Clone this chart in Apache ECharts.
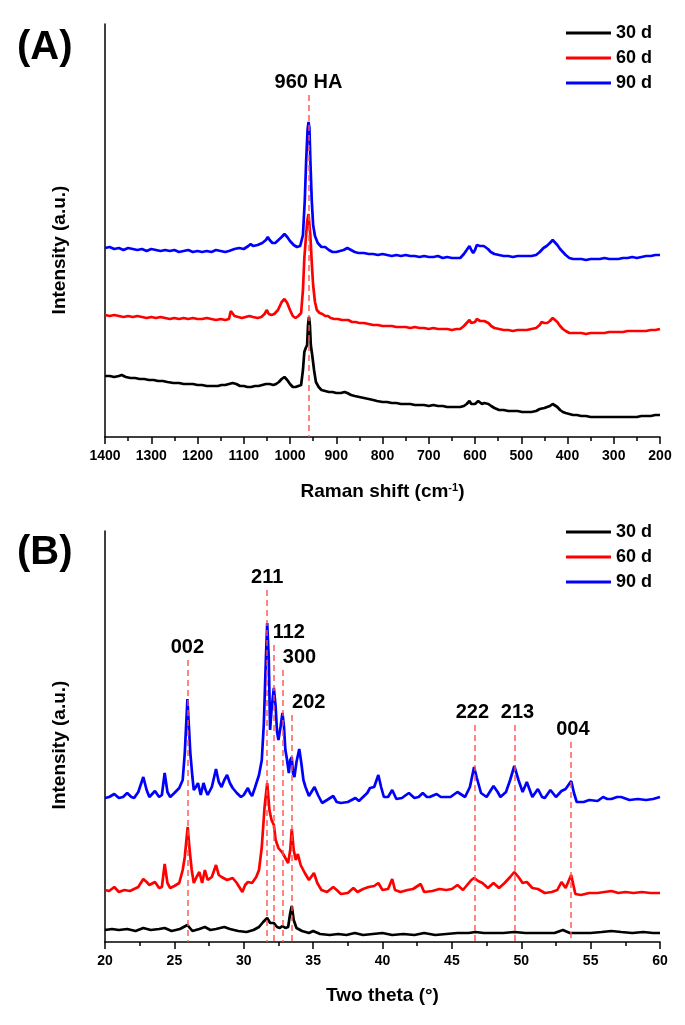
<!DOCTYPE html>
<html>
<head>
<meta charset="utf-8">
<script src="https://cdn.jsdelivr.net/npm/echarts@6/dist/echarts.min.js"></script>
<style>
html,body{margin:0;padding:0;background:#fff;}
#chart{width:685px;height:1025px;}
</style>
</head>
<body>
<div id="chart"></div>
<script>
// ---------- Panel A: Raman spectra  [Raman shift (cm-1), intensity (a.u.)] ----------
const seriesNames = ['30 d', '60 d', '90 d'];

const raman30 = [
[1400,61],[1390,61],[1380,60],[1370,61],[1364,62],[1355,60],[1345,59],[1335,59],[1325,58],[1315,58],[1305,57],[1295,57],[1285,56],[1275,56],[1265,55],[1252,54],[1240,54],[1230,53],[1220,53],[1210,53],[1200,52],[1190,52],[1180,51],[1172,51],[1164,51],[1156,51],[1148,52],[1140,52],[1132,53],[1124,54],[1116,53],[1108,51],[1100,51],[1092,50],[1084,50],[1076,51],[1068,51],[1060,52],[1052,53],[1048,55],[1044,53],[1036,52],[1030,53],[1024,55],[1018,58],[1012,60],[1006,57],[1000,53],[994,50],[988,50],[982,51],[976,52],[972,67],[969,85],[966,89],[963,92],[961,112],[959,120],[957,112],[955,92],[952,82],[948,67],[944,55],[938,50],[932,47],[924,46],[916,45],[908,45],[900,44],[890,44],[882,45],[876,44],[868,42],[860,41],[850,40],[840,39],[830,38],[820,37],[812,36],[800,35],[790,35],[780,34],[770,34],[760,33],[750,33],[740,33],[730,32],[720,32],[710,32],[700,31],[690,32],[680,31],[670,31],[660,30],[650,30],[640,30],[632,30],[624,31],[618,33],[612,36],[608,33],[604,32],[600,33],[596,35],[593,36],[589,34],[585,33],[580,34],[576,35],[571,33],[565,31],[558,29],[548,27],[538,27],[528,26],[518,26],[508,26],[498,25],[488,25],[478,25],[468,26],[460,28],[456,30],[450,29],[444,30],[438,31],[432,33],[428,32],[422,30],[416,27],[410,25],[404,24],[396,23],[388,22],[380,22],[370,21],[360,21],[350,20],[340,20],[330,20],[320,20],[310,20],[300,20],[290,20],[280,20],[270,20],[260,20],[250,20],[240,21],[230,21],[220,21],[210,22],[200,22]
];

const raman60 = [
[1400,122],[1390,121],[1380,122],[1370,121],[1360,120],[1350,121],[1340,120],[1330,121],[1320,120],[1310,119],[1300,120],[1290,119],[1280,120],[1270,119],[1260,118],[1250,119],[1240,118],[1230,119],[1220,118],[1210,119],[1200,118],[1190,118],[1180,119],[1170,118],[1160,117],[1150,118],[1140,117],[1132,118],[1128,126],[1125,124],[1120,121],[1112,120],[1104,119],[1096,120],[1088,121],[1080,120],[1070,119],[1062,120],[1055,123],[1050,127],[1046,123],[1040,122],[1034,123],[1026,127],[1018,135],[1012,138],[1006,134],[1000,127],[994,121],[988,119],[982,121],[976,124],[972,147],[969,179],[966,197],[963,215],[960,223],[958,221],[956,202],[953,175],[950,152],[946,135],[942,127],[936,124],[930,123],[924,121],[918,121],[912,119],[904,118],[896,118],[888,117],[880,117],[874,117],[866,115],[858,115],[850,114],[840,114],[830,113],[820,112],[810,112],[800,111],[790,111],[780,111],[770,110],[760,110],[750,110],[740,109],[730,110],[720,109],[710,109],[700,108],[690,109],[680,108],[670,108],[660,108],[650,107],[640,108],[632,108],[624,111],[618,114],[612,117],[608,114],[604,112],[600,115],[596,118],[593,119],[589,116],[585,115],[580,116],[576,117],[571,114],[565,111],[558,109],[548,108],[538,107],[528,107],[518,106],[508,107],[498,107],[488,107],[478,108],[468,109],[460,112],[456,115],[450,114],[444,114],[438,116],[432,119],[428,118],[422,115],[416,111],[410,108],[404,106],[396,104],[388,104],[380,104],[370,104],[360,103],[350,104],[340,104],[330,104],[320,104],[310,105],[300,105],[290,105],[280,105],[270,106],[260,106],[250,106],[240,106],[230,106],[220,107],[210,107],[200,108]
];

const raman90 = [
[1400,189],[1390,190],[1380,188],[1370,189],[1360,187],[1350,189],[1340,188],[1330,187],[1320,188],[1310,186],[1300,188],[1290,187],[1280,186],[1270,187],[1260,186],[1250,187],[1240,185],[1230,186],[1220,187],[1210,185],[1200,186],[1190,185],[1180,186],[1170,185],[1160,187],[1150,186],[1140,185],[1132,186],[1120,188],[1110,189],[1100,188],[1090,191],[1085,193],[1080,191],[1070,192],[1060,194],[1052,197],[1048,200],[1044,197],[1038,194],[1032,194],[1025,197],[1018,200],[1012,203],[1006,200],[1000,196],[992,192],[985,190],[978,191],[972,202],[968,237],[965,277],[962,307],[960,315],[958,309],[956,277],[953,237],[950,212],[946,201],[940,194],[932,190],[924,190],[916,187],[908,185],[900,185],[892,186],[884,187],[876,189],[868,187],[860,185],[852,184],[840,184],[830,183],[820,183],[810,182],[800,183],[790,182],[780,181],[770,182],[760,181],[750,182],[740,181],[730,181],[720,180],[710,181],[700,180],[690,180],[680,181],[670,179],[660,180],[650,179],[640,179],[632,179],[624,183],[618,187],[612,191],[608,187],[604,184],[600,187],[596,192],[593,194],[589,191],[586,189],[581,191],[577,192],[572,188],[566,185],[558,183],[548,182],[538,181],[528,181],[518,180],[508,181],[498,181],[488,181],[478,181],[468,182],[460,185],[452,189],[445,191],[438,194],[432,197],[428,196],[422,192],[416,188],[410,185],[404,182],[396,179],[388,178],[380,178],[370,178],[360,177],[350,178],[340,178],[330,178],[320,179],[310,178],[300,178],[290,178],[280,179],[270,179],[260,180],[250,179],[240,180],[230,181],[220,181],[210,182],[200,182]
];

const ramanPeakPos = [960];
const ramanPeakTop = [342];
const ramanPeakLabel = ['960 HA'];
const ramanTicks = { min: 200, max: 1400, step: 100 };

// ---------- Panel B: XRD patterns  [two theta (deg), intensity (a.u.)] ----------
const xrd30 = [
[20.0,12],[20.5,13],[21.0,12],[21.6,13],[22.2,11],[22.76,14],[23.3,12],[23.9,13],[24.3,14],[24.8,11],[25.4,13],[25.94,17],[26.3,11],[26.8,13],[27.2,15],[27.6,12],[28.0,13],[28.6,15],[29.0,13],[29.6,11],[30.2,10],[30.7,12],[31.1,15],[31.4,20],[31.69,24],[31.9,19],[32.17,19],[32.4,15],[32.6,14],[32.79,16],[33.0,14],[33.2,15],[33.35,29],[33.46,36],[33.6,22],[33.8,14],[34.2,11],[34.7,9],[35.0,11],[35.5,8],[36.2,7],[36.8,8],[37.4,7],[38.0,9],[38.6,7],[39.3,8],[40.0,9],[40.7,7],[41.5,8],[42.3,7],[43.0,9],[43.8,7],[44.6,8],[45.4,9],[46.2,9],[46.7,10],[47.3,9],[48.0,9],[48.7,9],[49.5,10],[50.3,9],[51.0,9],[51.8,9],[52.4,9],[53.0,12],[53.5,9],[54.2,9],[55.0,9],[55.8,10],[56.5,11],[57.2,10],[58.0,9],[58.8,10],[59.5,9],[60.0,9]
];

const xrd60 = [
[20.0,52],[20.3,51],[20.67,55],[21.0,50],[21.4,52],[21.8,51],[22.1,53],[22.4,55],[22.76,63],[23.0,60],[23.2,57],[23.6,60],[23.9,54],[24.1,55],[24.3,78],[24.5,59],[24.7,54],[25.0,56],[25.35,59],[25.6,72],[25.75,85],[25.96,115],[26.1,92],[26.25,72],[26.4,59],[26.6,65],[26.8,70],[27.0,59],[27.2,72],[27.4,62],[27.7,65],[28.0,77],[28.2,67],[28.4,65],[28.8,62],[29.2,64],[29.5,59],[29.9,50],[30.1,57],[30.3,60],[30.6,59],[30.9,65],[31.1,72],[31.3,95],[31.5,135],[31.69,159],[31.85,132],[32.0,122],[32.17,117],[32.3,102],[32.5,94],[32.8,89],[33.0,84],[33.2,79],[33.35,92],[33.46,113],[33.6,92],[33.75,82],[33.9,88],[34.1,77],[34.4,69],[34.7,62],[35.06,69],[35.3,59],[35.6,52],[36.0,50],[36.45,55],[36.7,52],[37.0,48],[37.5,49],[37.9,54],[38.2,50],[38.6,53],[39.0,55],[39.4,56],[39.7,59],[40.0,52],[40.4,53],[40.7,63],[40.9,52],[41.3,50],[41.8,52],[42.2,53],[42.75,58],[43.0,50],[43.6,51],[44.1,53],[44.6,52],[45.0,53],[45.4,57],[45.8,52],[46.1,57],[46.4,62],[46.6,64],[46.9,61],[47.2,59],[47.6,54],[48.0,59],[48.4,54],[48.8,59],[49.2,65],[49.5,70],[49.8,65],[50.1,59],[50.4,60],[50.8,54],[51.2,53],[51.7,49],[52.2,50],[52.6,52],[52.9,60],[53.2,54],[53.6,67],[53.9,48],[54.3,47],[54.9,49],[55.5,49],[56.0,50],[56.5,51],[57.0,49],[57.5,50],[58.1,49],[58.7,50],[59.3,49],[60.0,49]
];

const xrd90 = [
[20.0,144],[20.3,145],[20.67,148],[21.0,144],[21.3,145],[21.6,149],[21.9,145],[22.1,144],[22.4,150],[22.76,165],[23.0,152],[23.2,145],[23.6,151],[23.9,145],[24.1,147],[24.3,169],[24.5,150],[24.7,145],[25.0,149],[25.35,154],[25.6,162],[25.75,189],[25.94,243],[26.05,215],[26.15,189],[26.3,165],[26.4,152],[26.55,155],[26.7,159],[26.9,147],[27.1,159],[27.25,152],[27.4,147],[27.7,155],[28.0,173],[28.2,160],[28.4,155],[28.6,162],[28.8,167],[29.0,159],[29.2,154],[29.5,149],[29.8,145],[30.0,147],[30.3,154],[30.45,149],[30.6,146],[30.8,154],[31.1,167],[31.3,182],[31.45,219],[31.6,285],[31.69,319],[31.8,285],[31.9,212],[32.0,232],[32.17,254],[32.3,235],[32.4,210],[32.5,202],[32.65,215],[32.79,229],[32.9,215],[33.0,192],[33.1,184],[33.25,169],[33.35,182],[33.46,185],[33.55,169],[33.65,165],[33.8,180],[34.0,193],[34.15,179],[34.3,162],[34.45,155],[34.7,146],[35.1,155],[35.35,147],[35.65,139],[36.0,142],[36.45,146],[36.7,140],[37.0,139],[37.5,140],[38.05,144],[38.3,141],[38.6,145],[38.9,149],[39.1,154],[39.4,155],[39.7,167],[39.9,155],[40.1,145],[40.4,145],[40.7,152],[41.0,143],[41.4,144],[41.9,149],[42.3,144],[42.6,145],[42.9,149],[43.2,145],[43.4,145],[43.9,148],[44.2,145],[44.5,145],[44.9,145],[45.4,150],[45.95,145],[46.3,155],[46.6,175],[46.8,164],[47.1,149],[47.5,145],[48.0,156],[48.3,150],[48.5,145],[48.9,150],[49.2,162],[49.5,176],[49.8,162],[50.1,150],[50.4,160],[50.8,145],[51.2,153],[51.5,145],[51.7,144],[52.1,152],[52.5,145],[52.9,151],[53.2,153],[53.6,161],[53.8,149],[54.0,140],[54.5,140],[54.9,142],[55.5,141],[55.9,145],[56.2,143],[56.5,143],[56.9,145],[57.2,145],[57.8,142],[58.4,143],[59.0,142],[59.5,143],[60.0,145]
];

const xrdPeakLabel = ['002', '211', '112', '300', '202', '222', '213', '004'];
const xrdPeakPos   = [25.94, 31.69, 32.17, 32.79, 33.46, 46.62, 49.51, 53.58];
const xrdPeakTop   = [282, 352, 297, 272, 227, 217, 217, 200];
const xrdTicks = { min: 20, max: 60, step: 5 };

// ---------- styling ----------
const FONT = '"Liberation Sans", Arial, sans-serif';
const colors = ['#000000', '#ff0000', '#0000ff'];
const labelShiftX = [0, 0, 15, 17, 17, -2, 3, 2];   // label offsets only (styling)
const dashColor = 'rgba(255,80,80,0.7)';

function markLines(pos, top, names, shifts) {
  return {
    silent: true,
    symbol: ['none', 'none'],
    lineStyle: { color: dashColor, width: 2, type: [6, 4] },
    data: pos.map((p, i) => [
      { name: names[i], coord: [p, top[i]],
        label: { show: true, position: 'start', formatter: '{b}', distance: 3,
                 offset: [shifts ? shifts[i] : 0, 0],
                 color: '#000', fontFamily: FONT, fontWeight: 'bold', fontSize: 20 } },
      { coord: [p, 0] }
    ])
  };
}

function xAxisCfg(grid, ticks, inverse, name, nameGap) {
  return {
    type: 'value', gridIndex: grid, min: ticks.min, max: ticks.max, interval: ticks.step,
    inverse: inverse,
    name: name, nameLocation: 'middle', nameGap: nameGap,
    nameTextStyle: { color: '#000', fontFamily: FONT, fontWeight: 'bold', fontSize: 19,
      rich: { sup: { fontSize: 11, fontWeight: 'bold', fontFamily: FONT, verticalAlign: 'top', padding: [0, 0, 8, 0] } } },
    axisLine: { show: true, onZero: false, lineStyle: { color: '#000', width: 1.5 } },
    axisTick: { show: true, inside: false, length: 7, lineStyle: { color: '#000', width: 1.5 } },
    minorTick: { show: true, splitNumber: 2, length: 4, lineStyle: { color: '#000', width: 1.5 } },
    axisLabel: { color: '#000', fontFamily: FONT, fontWeight: 'bold', fontSize: 14, margin: 12,
                 formatter: v => String(v) },
    splitLine: { show: false }, minorSplitLine: { show: false }
  };
}

function yAxisCfg(grid, max) {
  return {
    type: 'value', gridIndex: grid, min: 0, max: max,
    axisLine: { show: true, onZero: false, lineStyle: { color: '#000', width: 1.5 } },
    axisTick: { show: false }, axisLabel: { show: false }, splitLine: { show: false }
  };
}

function lineSeries(name, data, xi, color, extra) {
  return Object.assign({
    name: name, type: 'line', xAxisIndex: xi, yAxisIndex: xi, data: data,
    showSymbol: false, symbol: 'none', smooth: false,
    lineStyle: { color: color, width: 2.7 }, itemStyle: { color: color },
    emphasis: { disabled: true }
  }, extra || {});
}

function legendCfg(top) {
  return {
    data: seriesNames, orient: 'vertical', right: 28, top: top,
    icon: 'rect', itemWidth: 45, itemHeight: 3, itemGap: 7,
    textStyle: { color: '#000', fontFamily: FONT, fontWeight: 'bold', fontSize: 18, lineHeight: 18 },
    selectedMode: false
  };
}

const chart = echarts.init(document.getElementById('chart'), null, { renderer: 'canvas' });
chart.setOption({
  animation: false,
  backgroundColor: '#fff',
  grid: [
    { left: 105, right: 25, top: 24, height: 413 },
    { left: 105, right: 25, top: 531, height: 411 }
  ],
  xAxis: [
    xAxisCfg(0, ramanTicks, true, 'Raman shift (cm{sup|-1})', 45),
    xAxisCfg(1, xrdTicks, false, 'Two theta (°)', 44)
  ],
  yAxis: [yAxisCfg(0, 413), yAxisCfg(1, 411)],
  legend: [legendCfg(19), legendCfg(518)],
  graphic: [
    { type: 'text', left: 17, top: 28, style: { text: '(A)', fill: '#000', font: 'bold 40px ' + FONT } },
    { type: 'text', left: 17, top: 533, style: { text: '(B)', fill: '#000', font: 'bold 40px ' + FONT } },
    { type: 'text', x: 60, y: 250, rotation: Math.PI / 2,
      style: { text: 'Intensity (a.u.)', fill: '#000', font: 'bold 19px ' + FONT, align: 'center', verticalAlign: 'middle' } },
    { type: 'text', x: 60, y: 745, rotation: Math.PI / 2,
      style: { text: 'Intensity (a.u.)', fill: '#000', font: 'bold 19px ' + FONT, align: 'center', verticalAlign: 'middle' } }
  ],
  series: [
    lineSeries(seriesNames[0], raman30, 0, colors[0]),
    lineSeries(seriesNames[1], raman60, 0, colors[1]),
    lineSeries(seriesNames[2], raman90, 0, colors[2], { markLine: markLines(ramanPeakPos, ramanPeakTop, ramanPeakLabel) }),
    lineSeries(seriesNames[0], xrd30, 1, colors[0]),
    lineSeries(seriesNames[1], xrd60, 1, colors[1]),
    lineSeries(seriesNames[2], xrd90, 1, colors[2], { markLine: markLines(xrdPeakPos, xrdPeakTop, xrdPeakLabel, labelShiftX) })
  ]
});
</script>
</body>
</html>
